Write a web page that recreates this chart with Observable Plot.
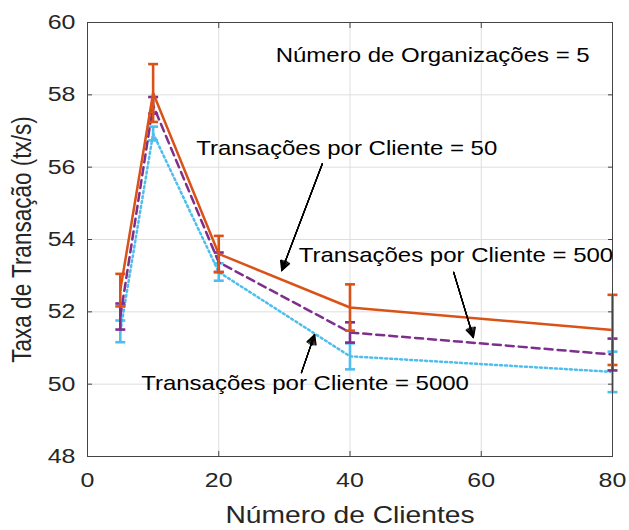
<!DOCTYPE html>
<html>
<head>
<meta charset="utf-8">
<script src="https://cdn.jsdelivr.net/npm/d3@7"></script>
<script src="https://cdn.jsdelivr.net/npm/@observablehq/plot@0.6"></script>
<style>
  html, body { margin: 0; padding: 0; background: #ffffff; }
  #chart { width: 629px; height: 530px; }
</style>
</head>
<body>
<div id="chart"></div>
<script>
// ---- data ----
const clients = [5, 10, 20, 40, 80];
const seriesNames = ["Transações por Cliente = 50", "Transações por Cliente = 500", "Transações por Cliente = 5000"];
const rate50   = [52.60, 58.05, 53.60, 52.12, 51.50];
const err50    = [0.45, 0.80, 0.50, 0.64, 0.97];
const rate500  = [51.87, 57.71, 53.37, 51.43, 50.82];
const err500   = [0.36, 0.23, 0.27, 0.28, 0.44];
const rate5000 = [51.46, 56.93, 53.10, 50.77, 50.34];
const err5000  = [0.30, 0.19, 0.24, 0.36, 0.56];
const xTicks = [0, 20, 40, 60, 80];
const yTicks = [48, 50, 52, 54, 56, 58, 60];
const xLabel = "Número de Clientes";
const yLabel = "Taxa de Transação (tx/s)";
const noteText = ["Número de Organizações = 5", seriesNames[0], seriesNames[1], seriesNames[2]];
const noteX = [52.6, 39.5, 56.15, 33.15];
const noteY = [59.08, 56.52, 53.56, 50.02];
const arrowFromX = [35.8, 55.8, 32.6];
const arrowFromY = [56.10, 53.09, 50.32];
const arrowToX = [29.6, 58.8, 34.6];
const arrowToY = [53.14, 51.29, 51.37];

// ---- styles ----
const colors = ["#D95319", "#7E2F8E", "#4DBEEE"];
const dashes = [null, "8,5", "2,3"];

const rates = [rate50, rate500, rate5000];
const errs = [err50, err500, err5000];
const rows = rates.map((r, s) => clients.map((c, i) => ({
  series: seriesNames[s], x: c, y: r[i], lo: r[i] - errs[s][i], hi: r[i] + errs[s][i]
})));
const notes = noteText.map((t, i) => ({text: t, x: noteX[i], y: noteY[i]}));
const arrows = arrowFromX.map((_, i) => ({x1: arrowFromX[i], y1: arrowFromY[i], x2: arrowToX[i], y2: arrowToY[i]}));

const cap = { draw(ctx) { ctx.moveTo(-5, 0); ctx.lineTo(5, 0); } };

const seriesMarks = [];
for (const s of [2, 1, 0]) {
  seriesMarks.push(
    Plot.line(rows[s], {x: "x", y: "y", stroke: colors[s], strokeWidth: 2.5, strokeDasharray: dashes[s]}),
    Plot.ruleX(rows[s], {x: "x", y1: "lo", y2: "hi", stroke: colors[s], strokeWidth: 2.6}),
    Plot.dot(rows[s], {x: "x", y: "hi", symbol: cap, fill: "none", stroke: colors[s], strokeWidth: 2.6}),
    Plot.dot(rows[s], {x: "x", y: "lo", symbol: cap, fill: "none", stroke: colors[s], strokeWidth: 2.6})
  );
}

const arrowMarks = [0, 15, 30, 45, 55].map(a =>
  Plot.arrow(arrows, {x1: "x1", y1: "y1", x2: "x2", y2: "y2", stroke: "#000", strokeWidth: 1.2, headLength: 13, headAngle: a})
);

const stretch = 1.2;
const txt = "#262626";
const svg = Plot.plot({
  width: 629, height: 530,
  marginLeft: 87, marginRight: 17, marginTop: 22, marginBottom: 74,
  x: {domain: [0, 80]},
  y: {domain: [48, 60]},
  style: {fontFamily: "'Liberation Sans', Arial, sans-serif", background: "#ffffff", color: txt},
  marks: [
    Plot.gridX(xTicks, {stroke: "#dedede", strokeOpacity: 1}),
    Plot.gridY(yTicks, {stroke: "#dedede", strokeOpacity: 1}),
    ...seriesMarks,
    Plot.frame({stroke: "#444"}),
    Plot.axisX(xTicks, {anchor: "bottom", tickSize: -5, tickFormat: () => "", label: null, stroke: "#444"}),
    Plot.axisX(xTicks, {anchor: "top", tickSize: -5, tickFormat: () => "", label: null, stroke: "#444"}),
    Plot.axisY(yTicks, {anchor: "left", tickSize: -5, tickFormat: () => "", label: null, stroke: "#444"}),
    Plot.axisY(yTicks, {anchor: "right", tickSize: -5, tickFormat: () => "", label: null, stroke: "#444"}),
    Plot.axisX(xTicks, {anchor: "bottom", tickSize: 0, tickPadding: 16, fontSize: 20.8, label: null, fill: txt}),
    Plot.axisY(yTicks, {anchor: "left", tickSize: 0, tickPadding: 12, fontSize: 20.8, label: null, fill: txt}),
    Plot.text([yLabel], {frameAnchor: "left", dx: -65, rotate: -90, textAnchor: "middle", lineAnchor: "middle", fontSize: 22.5, fill: txt}),
    Plot.text([xLabel], {frameAnchor: "bottom", dy: 59, textAnchor: "middle", lineAnchor: "middle", fontSize: 23.5, fill: txt}),
    Plot.text(notes, {x: "x", y: "y", text: "text", fontSize: 20, fill: "#000"}),
    ...arrowMarks
  ]
});

// horizontal stretch of the lettering, as in the reference image
svg.querySelectorAll("text").forEach(t => {
  const tr = t.getAttribute("transform") || "";
  t.setAttribute("transform", tr + (tr.includes("rotate") ? ` scale(1,${stretch})` : ` scale(${stretch},1)`));
});

document.getElementById("chart").appendChild(svg);
</script>
</body>
</html>
